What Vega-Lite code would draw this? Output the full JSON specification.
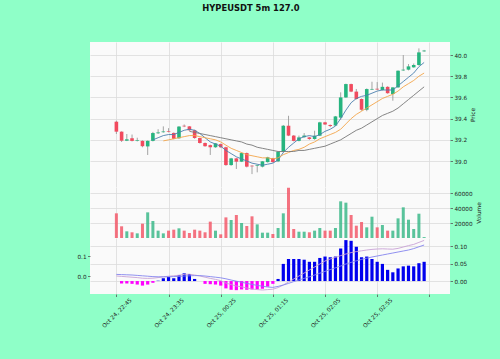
{
 "$schema": "https://vega.github.io/schema/vega-lite/v6.json",
 "background": "#8fffc8",
 "padding": {"left": 76, "top": 3, "right": 19, "bottom": 30},
 "title": {"text": "HYPEUSDT 5m 127.0", "fontSize": 8.4, "fontWeight": "bold", "color": "#111", "anchor": "middle", "offset": 30, "dx": -28},
 "config": {
  "font": "DejaVu Sans",
  "view": {"stroke": null, "fill": "#fafafa"},
  "axis": {"labelFontSize": 5.7, "labelColor": "#222", "tickColor": "#555", "tickSize": 2.5, "tickWidth": 0.8, "titleFontSize": 5.8, "titleFontWeight": "normal", "titleColor": "#222", "gridColor": "#dcdcdc", "gridWidth": 0.8, "domain": false, "labelPadding": 1.5, "labelOverlap": false}
 },
 "spacing": 0,
 "datasets": {"d": [
  {"i":0,"o":39.371,"h":39.38,"l":39.255,"c":39.277,"v":32900,"m1":null,"m2":null,"m3":null,"hist":null,"macd":0.000,"sig":0.008},
  {"i":1,"o":39.277,"h":39.28,"l":39.18,"c":39.192,"v":15600,"m1":null,"m2":null,"m3":null,"hist":-0.007,"macd":-0.002,"sig":0.007},
  {"i":2,"o":39.192,"h":39.255,"l":39.188,"c":39.205,"v":8900,"m1":null,"m2":null,"m3":null,"hist":-0.007,"macd":-0.004,"sig":0.006},
  {"i":3,"o":39.215,"h":39.25,"l":39.185,"c":39.19,"v":7600,"m1":null,"m2":null,"m3":null,"hist":-0.008,"macd":-0.006,"sig":0.005},
  {"i":4,"o":39.19,"h":39.22,"l":39.185,"c":39.196,"v":6200,"m1":null,"m2":null,"m3":null,"hist":-0.010,"macd":-0.008,"sig":0.003},
  {"i":5,"o":39.19,"h":39.195,"l":39.13,"c":39.14,"v":19100,"m1":null,"m2":null,"m3":null,"hist":-0.013,"macd":-0.011,"sig":0.001},
  {"i":6,"o":39.138,"h":39.195,"l":39.057,"c":39.19,"v":34200,"m1":null,"m2":null,"m3":null,"hist":-0.010,"macd":-0.012,"sig":-0.001},
  {"i":7,"o":39.19,"h":39.275,"l":39.185,"c":39.264,"v":22700,"m1":39.20,"m2":null,"m3":null,"hist":-0.005,"macd":-0.011,"sig":-0.003},
  {"i":8,"o":39.262,"h":39.30,"l":39.255,"c":39.27,"v":9800,"m1":39.22,"m2":null,"m3":null,"hist":0.001,"macd":-0.008,"sig":-0.004},
  {"i":9,"o":39.272,"h":39.327,"l":39.268,"c":39.279,"v":6200,"m1":39.24,"m2":39.19,"m3":null,"hist":0.008,"macd":-0.004,"sig":-0.004},
  {"i":10,"o":39.283,"h":39.31,"l":39.27,"c":39.277,"v":9800,"m1":39.25,"m2":39.20,"m3":null,"hist":0.012,"macd":-0.001,"sig":-0.004},
  {"i":11,"o":39.265,"h":39.27,"l":39.205,"c":39.21,"v":11100,"m1":39.25,"m2":39.21,"m3":null,"hist":0.008,"macd":0.001,"sig":-0.003},
  {"i":12,"o":39.215,"h":39.33,"l":39.21,"c":39.325,"v":12900,"m1":39.27,"m2":39.22,"m3":null,"hist":0.017,"macd":0.004,"sig":-0.002},
  {"i":13,"o":39.333,"h":39.345,"l":39.32,"c":39.327,"v":9800,"m1":39.29,"m2":39.23,"m3":null,"hist":0.022,"macd":0.008,"sig":0.000},
  {"i":14,"o":39.327,"h":39.33,"l":39.285,"c":39.29,"v":6700,"m1":39.30,"m2":39.24,"m3":39.28,"hist":0.020,"macd":0.009,"sig":0.001},
  {"i":15,"o":39.29,"h":39.295,"l":39.21,"c":39.217,"v":11100,"m1":39.29,"m2":39.24,"m3":39.27,"hist":0.006,"macd":0.005,"sig":0.002},
  {"i":16,"o":39.217,"h":39.22,"l":39.165,"c":39.17,"v":9800,"m1":39.26,"m2":39.23,"m3":39.26,"hist":null,"macd":0.000,"sig":0.002},
  {"i":17,"o":39.17,"h":39.175,"l":39.135,"c":39.14,"v":7600,"m1":39.22,"m2":39.22,"m3":39.25,"hist":-0.008,"macd":-0.006,"sig":0.000},
  {"i":18,"o":39.15,"h":39.155,"l":39.057,"c":39.13,"v":21800,"m1":39.18,"m2":39.21,"m3":39.24,"hist":-0.009,"macd":-0.012,"sig":-0.003},
  {"i":19,"o":39.13,"h":39.17,"l":39.125,"c":39.167,"v":9800,"m1":39.16,"m2":39.20,"m3":39.23,"hist":-0.010,"macd":-0.017,"sig":-0.006},
  {"i":20,"o":39.16,"h":39.165,"l":39.125,"c":39.13,"v":4900,"m1":39.14,"m2":39.18,"m3":39.22,"hist":-0.013,"macd":-0.023,"sig":-0.009},
  {"i":21,"o":39.13,"h":39.135,"l":38.955,"c":38.962,"v":27500,"m1":39.10,"m2":39.15,"m3":39.21,"hist":-0.021,"macd":-0.035,"sig":-0.014},
  {"i":22,"o":38.962,"h":39.03,"l":38.955,"c":39.025,"v":24000,"m1":39.07,"m2":39.12,"m3":39.20,"hist":-0.025,"macd":-0.043,"sig":-0.020},
  {"i":23,"o":39.025,"h":39.03,"l":38.925,"c":38.994,"v":30700,"m1":39.04,"m2":39.10,"m3":39.19,"hist":-0.026,"macd":-0.050,"sig":-0.026},
  {"i":24,"o":38.994,"h":39.08,"l":38.99,"c":39.075,"v":20000,"m1":39.02,"m2":39.08,"m3":39.18,"hist":-0.024,"macd":-0.054,"sig":-0.031},
  {"i":25,"o":39.075,"h":39.08,"l":38.94,"c":38.947,"v":16000,"m1":39.00,"m2":39.06,"m3":39.16,"hist":-0.025,"macd":-0.060,"sig":-0.037},
  {"i":26,"o":38.956,"h":38.96,"l":38.877,"c":38.95,"v":28900,"m1":38.98,"m2":39.05,"m3":39.15,"hist":-0.024,"macd":-0.065,"sig":-0.042},
  {"i":27,"o":38.955,"h":38.965,"l":38.893,"c":38.961,"v":18200,"m1":38.97,"m2":39.04,"m3":39.13,"hist":-0.024,"macd":-0.068,"sig":-0.047},
  {"i":28,"o":38.947,"h":39.0,"l":38.94,"c":38.997,"v":7100,"m1":38.96,"m2":39.03,"m3":39.12,"hist":-0.022,"macd":-0.070,"sig":-0.051},
  {"i":29,"o":38.99,"h":39.04,"l":38.985,"c":39.035,"v":7100,"m1":38.97,"m2":39.03,"m3":39.11,"hist":-0.016,"macd":-0.068,"sig":-0.055},
  {"i":30,"o":39.025,"h":39.03,"l":38.985,"c":38.99,"v":5300,"m1":38.98,"m2":39.02,"m3":39.10,"hist":-0.008,"macd":-0.066,"sig":-0.057},
  {"i":31,"o":38.997,"h":39.09,"l":38.99,"c":39.088,"v":13300,"m1":39.01,"m2":39.03,"m3":39.09,"hist":0.006,"macd":-0.058,"sig":-0.052},
  {"i":32,"o":39.088,"h":39.34,"l":39.08,"c":39.333,"v":32900,"m1":39.08,"m2":39.06,"m3":39.09,"hist":0.049,"macd":-0.045,"sig":-0.045},
  {"i":33,"o":39.333,"h":39.427,"l":39.235,"c":39.24,"v":67000,"m1":39.13,"m2":39.08,"m3":39.09,"hist":0.063,"macd":-0.030,"sig":-0.037},
  {"i":34,"o":39.24,"h":39.245,"l":39.185,"c":39.19,"v":12000,"m1":39.17,"m2":39.10,"m3":39.09,"hist":0.063,"macd":-0.015,"sig":-0.028},
  {"i":35,"o":39.19,"h":39.24,"l":39.185,"c":39.223,"v":8400,"m1":39.21,"m2":39.11,"m3":39.10,"hist":0.063,"macd":0.000,"sig":-0.020},
  {"i":36,"o":39.225,"h":39.264,"l":39.22,"c":39.24,"v":8400,"m1":39.23,"m2":39.13,"m3":39.10,"hist":0.061,"macd":0.015,"sig":-0.012},
  {"i":37,"o":39.223,"h":39.228,"l":39.2,"c":39.208,"v":7600,"m1":39.24,"m2":39.16,"m3":39.11,"hist":0.055,"macd":0.030,"sig":-0.004},
  {"i":38,"o":39.208,"h":39.286,"l":39.2,"c":39.239,"v":9800,"m1":39.23,"m2":39.18,"m3":39.12,"hist":0.055,"macd":0.045,"sig":0.005},
  {"i":39,"o":39.239,"h":39.37,"l":39.235,"c":39.365,"v":13300,"m1":39.25,"m2":39.21,"m3":39.13,"hist":0.066,"macd":0.060,"sig":0.014},
  {"i":40,"o":39.365,"h":39.37,"l":39.34,"c":39.345,"v":9800,"m1":39.28,"m2":39.23,"m3":39.14,"hist":0.070,"macd":0.075,"sig":0.023},
  {"i":41,"o":39.34,"h":39.345,"l":39.32,"c":39.33,"v":9800,"m1":39.30,"m2":39.25,"m3":39.16,"hist":0.068,"macd":0.085,"sig":0.032},
  {"i":42,"o":39.335,"h":39.425,"l":39.33,"c":39.421,"v":13300,"m1":39.33,"m2":39.27,"m3":39.18,"hist":0.070,"macd":0.093,"sig":0.041},
  {"i":43,"o":39.41,"h":39.648,"l":39.39,"c":39.60,"v":48900,"m1":39.40,"m2":39.30,"m3":39.20,"hist":0.093,"macd":0.102,"sig":0.050},
  {"i":44,"o":39.60,"h":39.73,"l":39.595,"c":39.726,"v":47100,"m1":39.48,"m2":39.35,"m3":39.23,"hist":0.117,"macd":0.110,"sig":0.060},
  {"i":45,"o":39.726,"h":39.73,"l":39.65,"c":39.655,"v":30700,"m1":39.55,"m2":39.40,"m3":39.26,"hist":0.115,"macd":0.117,"sig":0.068},
  {"i":46,"o":39.655,"h":39.68,"l":39.58,"c":39.585,"v":16400,"m1":39.59,"m2":39.44,"m3":39.29,"hist":0.098,"macd":0.122,"sig":0.076},
  {"i":47,"o":39.585,"h":39.59,"l":39.475,"c":39.484,"v":21300,"m1":39.61,"m2":39.47,"m3":39.31,"hist":0.068,"macd":0.126,"sig":0.083},
  {"i":48,"o":39.484,"h":39.685,"l":39.47,"c":39.679,"v":14200,"m1":39.62,"m2":39.50,"m3":39.34,"hist":0.070,"macd":0.130,"sig":0.089},
  {"i":49,"o":39.674,"h":39.748,"l":39.67,"c":39.68,"v":28400,"m1":39.64,"m2":39.53,"m3":39.37,"hist":0.063,"macd":0.133,"sig":0.095},
  {"i":50,"o":39.682,"h":39.745,"l":39.67,"c":39.675,"v":14200,"m1":39.66,"m2":39.56,"m3":39.40,"hist":0.055,"macd":0.135,"sig":0.100},
  {"i":51,"o":39.67,"h":39.74,"l":39.665,"c":39.70,"v":17300,"m1":39.67,"m2":39.59,"m3":39.43,"hist":0.049,"macd":0.136,"sig":0.105},
  {"i":52,"o":39.70,"h":39.705,"l":39.635,"c":39.64,"v":9800,"m1":39.67,"m2":39.61,"m3":39.45,"hist":0.032,"macd":0.135,"sig":0.110},
  {"i":53,"o":39.632,"h":39.695,"l":39.569,"c":39.695,"v":9800,"m1":39.67,"m2":39.63,"m3":39.47,"hist":0.025,"macd":0.134,"sig":0.115},
  {"i":54,"o":39.695,"h":39.855,"l":39.69,"c":39.852,"v":26200,"m1":39.71,"m2":39.66,"m3":39.50,"hist":0.036,"macd":0.138,"sig":0.120},
  {"i":55,"o":39.855,"h":40.0,"l":39.85,"c":39.862,"v":40900,"m1":39.75,"m2":39.70,"m3":39.54,"hist":0.042,"macd":0.145,"sig":0.125},
  {"i":56,"o":39.862,"h":39.915,"l":39.855,"c":39.893,"v":24400,"m1":39.79,"m2":39.73,"m3":39.58,"hist":0.044,"macd":0.152,"sig":0.130},
  {"i":57,"o":39.884,"h":39.92,"l":39.88,"c":39.906,"v":12000,"m1":39.83,"m2":39.76,"m3":39.62,"hist":0.042,"macd":0.158,"sig":0.137},
  {"i":58,"o":39.906,"h":40.063,"l":39.90,"c":40.025,"v":32400,"m1":39.89,"m2":39.80,"m3":39.66,"hist":0.051,"macd":0.168,"sig":0.146},
  {"i":59,"o":40.035,"h":40.048,"l":40.03,"c":40.042,"v":1200,"m1":39.93,"m2":39.83,"m3":39.70,"hist":0.055,"macd":0.178,"sig":0.155}
 ]},
 "data": {"name": "d"},
 "vconcat": [
  {
   "width": 360, "height": 145,
   "encoding": {"x": {"field": "i", "type": "quantitative", "scale": {"domain": [-4.1, 63], "nice": false, "zero": false}, "axis": {"values": [0,10,20,30,40,50,60], "tickCount": 20, "labels": false, "ticks": false, "title": null, "grid": true}}},
   "layer": [
    {"mark": {"type": "rule", "color": "#9a9a9a", "strokeWidth": 0.9},
     "encoding": {"y": {"field": "l", "type": "quantitative", "scale": {"domain": [38.755, 40.123], "nice": false, "zero": false}, "axis": {"orient": "right", "values": [39, 39.2, 39.4, 39.6, 39.8, 40], "tickCount": 20, "format": ".1f", "labelOverlap": false, "labelBound": false, "labelFlush": false, "title": "Price", "titleAngle": 270, "titleBaseline": "top", "titlePadding": 3, "grid": true}}, "y2": {"field": "h"}}},
    {"mark": {"type": "bar", "width": 3.6},
     "encoding": {"y": {"field": "o", "type": "quantitative"}, "y2": {"field": "c"}, "color": {"condition": {"test": "datum.c >= datum.o", "value": "#26b47f"}, "value": "#f24a5e"}}},
    {"mark": {"type": "line", "color": "#4b7fae", "strokeWidth": 0.9}, "encoding": {"y": {"field": "m1", "type": "quantitative"}}},
    {"mark": {"type": "line", "color": "#f3a54a", "strokeWidth": 0.9}, "encoding": {"y": {"field": "m2", "type": "quantitative"}}},
    {"mark": {"type": "line", "color": "#777777", "strokeWidth": 0.9}, "encoding": {"y": {"field": "m3", "type": "quantitative"}}}
   ]
  },
  {
   "width": 360, "height": 51,
   "mark": {"type": "bar", "width": 3, "opacity": 0.85},
   "encoding": {
    "x": {"field": "i", "type": "quantitative", "scale": {"domain": [-4.1, 63], "nice": false, "zero": false}, "axis": {"values": [0,10,20,30,40,50,60], "tickCount": 20, "labels": false, "ticks": false, "title": null, "grid": true}},
    "y": {"field": "v", "type": "quantitative", "scale": {"domain": [0, 68000], "nice": false}, "axis": {"orient": "right", "values": [20000, 40000, 60000], "tickCount": 20, "format": "d", "labelOverlap": false, "title": "Volume", "titleAngle": 270, "titleBaseline": "top", "titlePadding": 3, "grid": true}},
    "color": {"condition": {"test": "datum.c >= datum.o", "value": "#3cb98a"}, "value": "#f2596a"}
   }
  },
  {
   "width": 360, "height": 56,
   "encoding": {"x": {"field": "i", "type": "quantitative", "scale": {"domain": [-4.1, 63], "nice": false, "zero": false}, "axis": {"values": [0,10,20,30,40,50,60], "tickCount": 20, "labelExpr": "['Oct 24, 22:45','Oct 24, 23:35','Oct 25, 00:25','Oct 25, 01:15','Oct 25, 02:05','Oct 25, 02:55',''][round(datum.value/10)]", "labelAngle": -45, "labelAlign": "center", "labelBaseline": "middle", "labelPadding": 16, "labelOverlap": false, "labelBound": false, "labelFlush": false, "tickSize": 2.5, "title": null, "grid": true}}},
   "layer": [
    {"mark": {"type": "bar", "width": 3.2},
     "encoding": {"y": {"field": "hist", "type": "quantitative", "scale": {"domain": [-0.037, 0.123], "nice": false, "zero": false}, "axis": {"orient": "right", "values": [0, 0.05, 0.1], "tickCount": 20, "format": ".2f", "labelOverlap": false, "title": null, "grid": true}}, "color": {"condition": {"test": "datum.hist >= 0", "value": "#0000ee"}, "value": "#ff00ff"}}},
    {"mark": {"type": "line", "color": "#c8a2d6", "strokeWidth": 0.9},
     "encoding": {"y": {"field": "macd", "type": "quantitative", "scale": {"domain": [-0.09, 0.19], "nice": false, "zero": false}, "axis": {"orient": "left", "values": [0, 0.1], "tickCount": 20, "format": ".1f", "labelOverlap": false, "title": null, "grid": false}}}},
    {"mark": {"type": "line", "color": "#8484ee", "strokeWidth": 0.9},
     "encoding": {"y": {"field": "sig", "type": "quantitative", "scale": {"domain": [-0.09, 0.19], "nice": false, "zero": false}, "axis": null}}}
   ],
   "resolve": {"scale": {"y": "independent"}}
  }
 ]
}
